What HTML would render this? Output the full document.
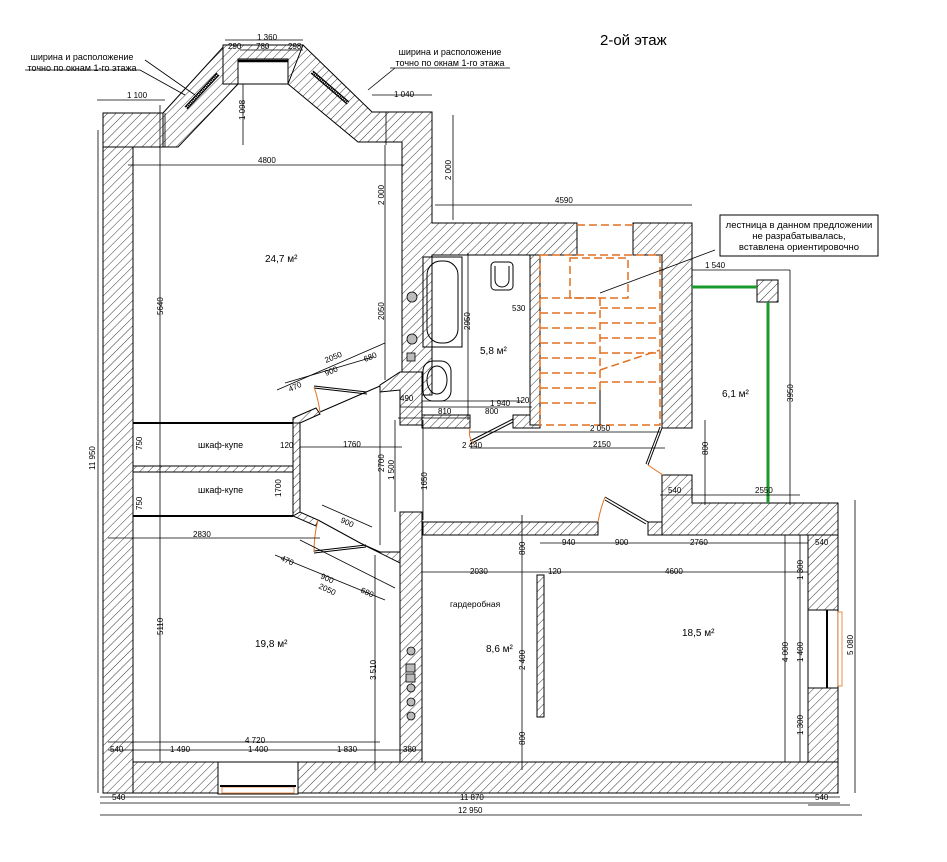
<!DOCTYPE html>
<html><head><meta charset="utf-8"><style>
html,body{margin:0;padding:0;background:#fff;}
svg{display:block;}
text{font-family:"Liberation Sans","DejaVu Sans",sans-serif;fill:#000;}
.d{font-size:8px;}
.r{font-size:10px;}
</style></head><body>
<svg width="947" height="862" viewBox="0 0 947 862" xmlns="http://www.w3.org/2000/svg">
<defs>
<pattern id="h" patternUnits="userSpaceOnUse" width="6" height="6" patternTransform="rotate(45)">
<rect width="6" height="6" fill="#fff"/><line x1="0" y1="0" x2="0" y2="6" stroke="#222" stroke-width="0.9"/>
</pattern>
</defs>
<rect width="947" height="862" fill="#fff"/>
<g stroke="#000" stroke-width="1" fill="url(#h)">
<rect x="103" y="113" width="30" height="680"/>
<rect x="103" y="113" width="62" height="34"/>
<polygon points="163,113 225,45 238,45 238,84 178,147 163,147"/>
<polygon points="223,45 303,45 303,84 288,84 288,59 238,59 238,84 223,84"/>
<polygon points="288,84 303,45 372,112 432,112 432,223 577,223 577,255 432,255 432,395 402,395 402,142 358,142"/>
<polygon points="633,223 692,223 692,428 662,428 662,255 633,255"/>
<polygon points="662,475 692,475 692,503 838,503 838,535 662,535"/>
<rect x="648" y="522" width="14" height="13"/>
<rect x="423" y="522" width="175" height="13"/>
<rect x="400" y="512" width="22" height="250"/>
<polygon points="380,385 400,372 422,372 422,425 400,425 400,390 380,392"/>
<rect x="422" y="415" width="48" height="13"/>
<rect x="513" y="415" width="27" height="13"/>
<rect x="808" y="535" width="30" height="258"/>
<rect x="133" y="762" width="705" height="31"/>
<rect x="537" y="575" width="7" height="142"/>
<rect x="133" y="466" width="160" height="6"/>
<rect x="293" y="423" width="7" height="93"/>
<polygon points="293,423 293,418 316,408 320,414 300,423"/>
<polygon points="293,516 300,512 318,520 316,526"/>
<polygon points="362,544 380,552 400,552 400,563"/>
<rect x="757" y="280" width="21" height="22"/>
<rect x="530" y="255" width="10" height="170"/>
</g>
<rect x="218" y="762" width="80" height="32" fill="#fff" stroke="#000"/>
<rect x="222" y="787" width="72" height="6" fill="#fff" stroke="#e07020" stroke-width="0.8"/>
<line x1="220" y1="786" x2="296" y2="786" stroke="#000" stroke-width="2"/>
<rect x="808" y="610" width="30" height="78" fill="#fff" stroke="#000"/>
<line x1="827" y1="610" x2="827" y2="688" stroke="#000" stroke-width="2"/>
<rect x="838" y="612" width="4" height="74" fill="#fff" stroke="#e07020" stroke-width="0.8"/>
<rect x="238" y="59" width="50" height="25" fill="#fff" stroke="#000"/>
<line x1="238" y1="61" x2="288" y2="61" stroke="#000" stroke-width="2.5"/>
<line x1="186" y1="108" x2="218" y2="74" stroke="#000" stroke-width="4"/>
<line x1="186" y1="108" x2="218" y2="74" stroke="#fff" stroke-width="1.5" stroke-dasharray="1,1"/>
<line x1="312" y1="72" x2="348" y2="103" stroke="#000" stroke-width="4"/>
<line x1="312" y1="72" x2="348" y2="103" stroke="#fff" stroke-width="1.5" stroke-dasharray="1,1"/>
<g stroke="#000" stroke-width="2"><line x1="133" y1="423" x2="293" y2="423"/><line x1="133" y1="516" x2="293" y2="516"/></g>
<g stroke="#000" stroke-width="1" fill="none">
<line x1="320" y1="412" x2="380" y2="386"/>
<line x1="314" y1="386" x2="367" y2="392"/><line x1="314" y1="388" x2="367" y2="394"/>
<line x1="318" y1="520" x2="362" y2="544"/>
<line x1="314" y1="551" x2="366" y2="545"/><line x1="314" y1="553" x2="366" y2="547"/>
<line x1="470" y1="441" x2="513" y2="419"/><line x1="470" y1="444" x2="513" y2="422"/>
<line x1="648" y1="465" x2="662" y2="428"/><line x1="646" y1="464" x2="660" y2="427"/>
<line x1="605" y1="497" x2="648" y2="522"/><line x1="605" y1="500" x2="646" y2="524"/>
<line x1="662" y1="428" x2="692" y2="428"/><line x1="662" y1="475" x2="692" y2="475"/>
</g>
<g stroke="#e07020" stroke-width="1" fill="none">
<path d="M314,387 Q318,398 320,412"/><path d="M314,552 Q314,535 318,520"/><path d="M470,428 Q468,438 474,444"/><path d="M605,497 Q600,510 598,522"/><path d="M648,465 Q655,470 663,475"/>
</g>
<g stroke="#000" fill="none" stroke-width="1">
<rect x="423" y="257" width="39" height="90"/><rect x="427" y="261" width="31" height="82" rx="14"/>
<rect x="423" y="361" width="28" height="40" rx="10"/><ellipse cx="437" cy="380" rx="10" ry="14"/>
<rect x="491" y="262" width="22" height="28" rx="4"/><path d="M495,266 v14 a7,7 0 0 0 14,0 v-14"/>
</g>
<g stroke="#e07020" stroke-width="1.5" fill="none" stroke-dasharray="8,4">
<rect x="540" y="255" width="120" height="170"/>
<rect x="570" y="258" width="58" height="40"/>
<line x1="577" y1="225" x2="633" y2="225"/>
<line x1="600" y1="298" x2="600" y2="390"/>
<line x1="540" y1="298" x2="600" y2="298"/><line x1="540" y1="313" x2="600" y2="313"/><line x1="540" y1="328" x2="600" y2="328"/><line x1="540" y1="343" x2="600" y2="343"/><line x1="540" y1="358" x2="600" y2="358"/><line x1="540" y1="373" x2="600" y2="373"/><line x1="540" y1="388" x2="600" y2="388"/><line x1="540" y1="403" x2="600" y2="403"/>
<line x1="600" y1="308" x2="660" y2="308"/><line x1="600" y1="323" x2="660" y2="323"/><line x1="600" y1="338" x2="660" y2="338"/><line x1="600" y1="353" x2="660" y2="353"/><line x1="600" y1="370" x2="660" y2="350"/><line x1="600" y1="382" x2="660" y2="382"/>
</g>
<line x1="600" y1="390" x2="600" y2="425" stroke="#000"/>
<g stroke="#1a9a2a" stroke-width="3"><line x1="692" y1="287" x2="757" y2="287"/><line x1="768" y1="302" x2="768" y2="503"/></g>
<g fill="#bbb" stroke="#000" stroke-width="0.8"><circle cx="412" cy="297" r="5"/><circle cx="412" cy="339" r="5"/><rect x="407" y="353" width="8" height="8"/>
<circle cx="411" cy="651" r="4"/><rect x="406" y="664" width="9" height="8"/><rect x="406" y="674" width="9" height="8"/><circle cx="411" cy="688" r="4"/><circle cx="411" cy="702" r="4"/><circle cx="411" cy="716" r="4"/></g>
<g stroke="#000" stroke-width="0.8" fill="none">
<line x1="97" y1="100" x2="165" y2="100"/><line x1="372" y1="95" x2="432" y2="95"/><line x1="225" y1="40" x2="303" y2="40"/><line x1="240" y1="50" x2="303" y2="50"/>
<line x1="128" y1="165" x2="404" y2="165"/><line x1="435" y1="205" x2="692" y2="205"/>
<line x1="98" y1="130" x2="98" y2="793"/><line x1="160" y1="105" x2="160" y2="762"/><line x1="165" y1="113" x2="165" y2="147"/>
<line x1="243" y1="84" x2="243" y2="145"/><line x1="385" y1="145" x2="385" y2="380"/><line x1="386" y1="112" x2="386" y2="145"/><line x1="453" y1="115" x2="453" y2="220"/>
<line x1="300" y1="447" x2="402" y2="447"/><line x1="108" y1="538" x2="320" y2="538"/>
<line x1="380" y1="392" x2="380" y2="545"/><line x1="395" y1="420" x2="395" y2="512"/><line x1="423" y1="420" x2="423" y2="520"/><line x1="375" y1="555" x2="375" y2="770"/>
<line x1="468" y1="253" x2="468" y2="420"/><line x1="470" y1="432" x2="660" y2="432"/><line x1="470" y1="448" x2="665" y2="448"/>
<line x1="398" y1="418" x2="470" y2="418"/><line x1="400" y1="407" x2="532" y2="407"/><line x1="422" y1="401" x2="522" y2="401"/>
<line x1="705" y1="420" x2="705" y2="505"/><line x1="660" y1="495" x2="800" y2="495"/><line x1="692" y1="270" x2="790" y2="270"/><line x1="790" y1="270" x2="790" y2="505"/>
<line x1="522" y1="515" x2="522" y2="770"/><line x1="540" y1="543" x2="808" y2="543"/><line x1="422" y1="572" x2="808" y2="572"/>
<line x1="785" y1="535" x2="785" y2="762"/><line x1="800" y1="535" x2="800" y2="762"/><line x1="855" y1="500" x2="855" y2="793"/>
<line x1="108" y1="750" x2="422" y2="750"/><line x1="108" y1="742" x2="380" y2="742"/>
<line x1="100" y1="797" x2="840" y2="797"/><line x1="100" y1="803" x2="840" y2="803"/><line x1="100" y1="815" x2="862" y2="815"/><line x1="808" y1="805" x2="850" y2="805"/>
<line x1="277" y1="390" x2="385" y2="343"/><line x1="285" y1="383" x2="373" y2="357"/>
<line x1="275" y1="555" x2="385" y2="600"/><line x1="300" y1="540" x2="395" y2="588"/><line x1="322" y1="505" x2="372" y2="527"/>
<line x1="145" y1="60" x2="195" y2="95"/><line x1="395" y1="68" x2="368" y2="90"/>
<line x1="600" y1="293" x2="715" y2="250"/>
</g>
<line x1="25" y1="70" x2="140" y2="70" stroke="#000" stroke-width="0.8"/>
<line x1="140" y1="70" x2="185" y2="95" stroke="#000" stroke-width="0.8"/>
<line x1="390" y1="68" x2="510" y2="68" stroke="#000" stroke-width="0.8"/>
<rect x="720" y="215" width="158" height="41" fill="#fff" stroke="#000"/>
<text x="600" y="45" font-size="15">2-ой этаж</text>
<text x="82" y="60" style="font-size:9px" text-anchor="middle">ширина и расположение</text>
<text x="82" y="71" style="font-size:9px" text-anchor="middle">точно по окнам 1-го этажа</text>
<text x="450" y="55" style="font-size:9px" text-anchor="middle">ширина и расположение</text>
<text x="450" y="66" style="font-size:9px" text-anchor="middle">точно по окнам 1-го этажа</text>
<text x="799" y="228" style="font-size:9.5px" text-anchor="middle">лестница в данном предложении</text>
<text x="799" y="239" style="font-size:9.5px" text-anchor="middle">не разрабатывалась,</text>
<text x="799" y="250" style="font-size:9.5px" text-anchor="middle">вставлена ориентировочно</text>
<text x="265" y="262" class="r">24,7 м²</text>
<text x="480" y="354" class="r">5,8 м²</text>
<text x="722" y="397" class="r">6,1 м²</text>
<text x="255" y="647" class="r">19,8 м²</text>
<text x="486" y="652" class="r">8,6 м²</text>
<text x="682" y="636" class="r">18,5 м²</text>
<text x="450" y="607" style="font-size:8.5px">гардеробная</text>
<text x="198" y="448" style="font-size:9px">шкаф-купе</text>
<text x="198" y="493" style="font-size:9px">шкаф-купе</text>
<g class="d">
<text x="257" y="40">1 360</text><text x="228" y="49">290</text><text x="256" y="49">780</text><text x="288" y="49">298</text>
<text x="127" y="98">1 100</text><text x="394" y="97">1 040</text><text x="258" y="163">4800</text><text x="555" y="203">4590</text>
<text x="705" y="268">1 540</text><text x="512" y="311">530</text><text x="490" y="406">1 940</text><text x="438" y="414">810</text><text x="485" y="414">800</text><text x="516" y="403">120</text><text x="400" y="401">490</text>
<text x="590" y="431">2 050</text><text x="593" y="447">2150</text><text x="462" y="448">2 440</text><text x="343" y="447">1760</text><text x="280" y="448">120</text>
<text x="668" y="493">540</text><text x="755" y="493">2550</text><text x="193" y="537">2830</text>
<text x="562" y="545">940</text><text x="615" y="545">900</text><text x="690" y="545">2760</text><text x="815" y="545">540</text>
<text x="470" y="574">2030</text><text x="548" y="574">120</text><text x="665" y="574">4600</text>
<text x="245" y="743">4 720</text><text x="110" y="752">540</text><text x="170" y="752">1 490</text><text x="248" y="752">1 400</text><text x="337" y="752">1 830</text><text x="403" y="752">380</text>
<text x="112" y="800">540</text><text x="460" y="800">11 870</text><text x="458" y="813">12 950</text><text x="815" y="800">540</text>
</g>
<g class="d">
<text transform="translate(95,470) rotate(-90)">11 950</text>
<text transform="translate(163,315) rotate(-90)">5640</text>
<text transform="translate(163,635) rotate(-90)">5110</text>
<text transform="translate(245,120) rotate(-90)">1 098</text>
<text transform="translate(384,205) rotate(-90)">2 000</text>
<text transform="translate(451,180) rotate(-90)">2 000</text>
<text transform="translate(384,320) rotate(-90)">2050</text>
<text transform="translate(470,330) rotate(-90)">2950</text>
<text transform="translate(384,472) rotate(-90)">2700</text>
<text transform="translate(394,480) rotate(-90)">1 500</text>
<text transform="translate(427,490) rotate(-90)">1650</text>
<text transform="translate(376,680) rotate(-90)">3 510</text>
<text transform="translate(525,670) rotate(-90)">2 400</text>
<text transform="translate(525,555) rotate(-90)">800</text>
<text transform="translate(525,745) rotate(-90)">800</text>
<text transform="translate(708,455) rotate(-90)">800</text>
<text transform="translate(793,402) rotate(-90)">3950</text>
<text transform="translate(788,662) rotate(-90)">4 000</text>
<text transform="translate(803,580) rotate(-90)">1 300</text>
<text transform="translate(803,662) rotate(-90)">1 400</text>
<text transform="translate(803,735) rotate(-90)">1 300</text>
<text transform="translate(853,655) rotate(-90)">5 080</text>
<text transform="translate(142,450) rotate(-90)">750</text>
<text transform="translate(142,510) rotate(-90)">750</text>
<text transform="translate(281,497) rotate(-90)">1700</text>
</g>
<g class="d">
<text transform="translate(290,392) rotate(-25)">470</text>
<text transform="translate(326,376) rotate(-22)">900</text>
<text transform="translate(326,363) rotate(-22)">2050</text>
<text transform="translate(365,362) rotate(-22)">680</text>
<text transform="translate(280,560) rotate(25)">470</text>
<text transform="translate(320,578) rotate(25)">900</text>
<text transform="translate(318,588) rotate(25)">2050</text>
<text transform="translate(340,522) rotate(25)">900</text>
<text transform="translate(360,592) rotate(25)">680</text>
</g>
</svg>
</body></html>
